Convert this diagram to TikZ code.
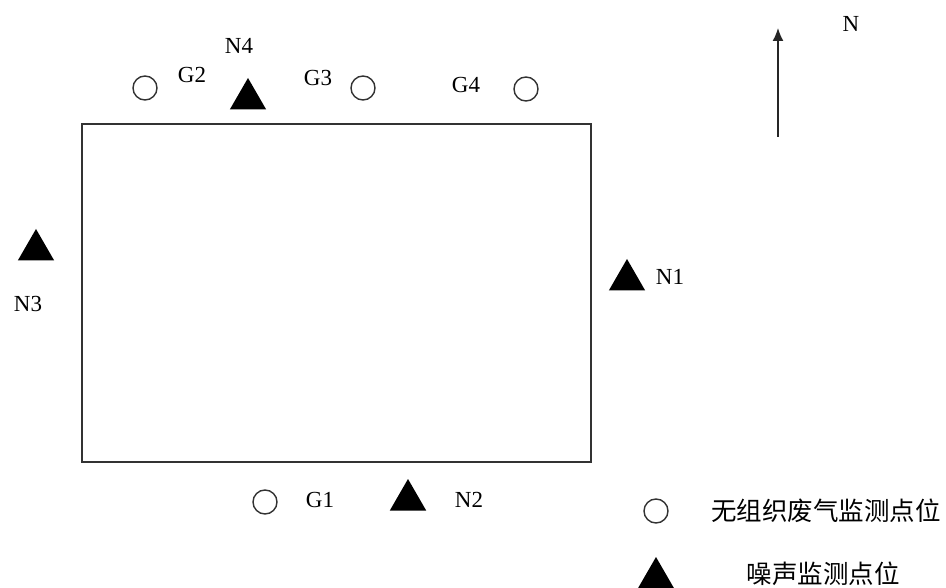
\documentclass[tikz,border=0pt]{standalone}
\usepackage{fontspec}
\setmainfont{Liberation Serif}
\newfontfamily\cjk{Noto Sans CJK SC}
\usetikzlibrary{shapes.geometric,arrows.meta}
\tikzset{
  site/.style={draw=black!80,line width=1.4pt,circle,minimum size=24pt,inner sep=0pt},
  noise/.style={fill=black,regular polygon,regular polygon sides=3,minimum size=42pt,inner sep=0pt},
  lbl/.style={font=\fontsize{23}{23}\selectfont,inner sep=0pt},
  leg/.style={font=\cjk\fontsize{25.5}{25.5}\selectfont,inner sep=0pt},
}
\begin{document}
\begin{tikzpicture}[x=1pt,y=-1pt]
\useasboundingbox (0,0) rectangle (946,588);
\node[draw=black!80,line width=1.8pt,minimum width=509pt,minimum height=338pt,inner sep=0pt] (site) at (336.5,293) {};
% gas monitoring points
\node[site] (g1) at (265,502) {};
\node[site] (g2) at (145,88) {};
\node[site] (g3) at (363,88) {};
\node[site] (g4) at (526,89) {};
\node[lbl] (g1l) at (320,500) {G1};
\node[lbl] (g2l) at (192,75) {G2};
\node[lbl] (g3l) at (318,78) {G3};
\node[lbl] (g4l) at (466,85) {G4};
% noise points
\node[noise] (n1) at (627,280) {};
\node[noise] (n2) at (408,500) {};
\node[noise] (n3) at (36,250) {};
\node[noise] (n4) at (248,99) {};
\node[lbl] (n1l) at (670,277) {N1};
\node[lbl] (n2l) at (469,500) {N2};
\node[lbl] (n3l) at (28,304) {N3};
\node[lbl] (n4l) at (239,46) {N4};
% north arrow
\coordinate (nb) at (778,137);
\coordinate (nt) at (778,28);
\draw[line width=1.5pt,black!85,-{Latex[length=13pt,width=11pt]}] (nb) -- (nt);
\node[lbl] (nl) at (851,24) {N};
% legend
\node[site] (lg) at (656,511) {};
\node[leg] (lgt) at (826,511) {无组织废气监测点位};
\node[noise] (ln) at (656,578) {};
\node[leg] (lnt) at (823,574) {噪声监测点位};
\end{tikzpicture}
\end{document}
